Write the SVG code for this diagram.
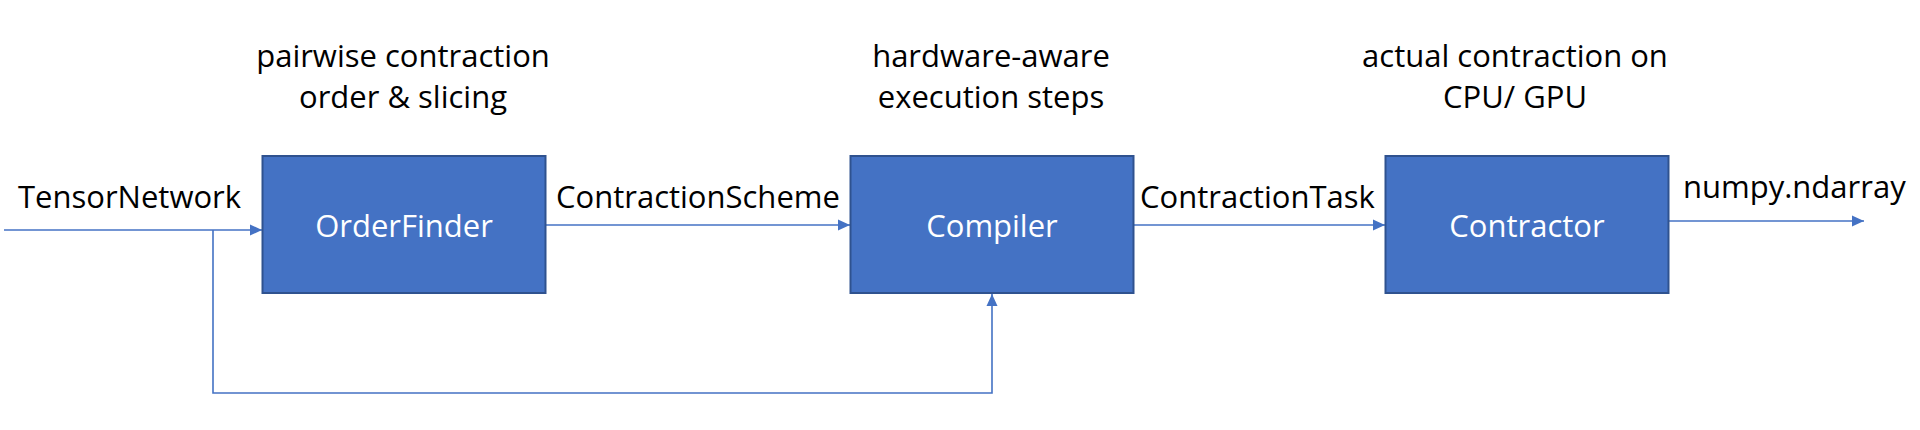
<svg xmlns="http://www.w3.org/2000/svg" width="1920" height="430" viewBox="0 0 1920 430">
<style>
.box{fill:#4472C4;stroke:#2F528F;stroke-width:2}
.lbl{font-family:"Open Sans","Noto Sans","Liberation Sans",sans-serif;font-size:31px;fill:#000}
.blbl{font-family:"Open Sans","Noto Sans","Liberation Sans",sans-serif;font-size:31px;fill:#fff;text-anchor:middle}
.mid{text-anchor:middle}
.con{fill:none;stroke:#4472C4;stroke-width:1.6}
</style>
<defs>
<marker id="arr" markerUnits="userSpaceOnUse" markerWidth="12" markerHeight="12" refX="12" refY="6" orient="auto">
<path d="M0,0.5 L12,6 L0,11.5 z" fill="#4472C4"/>
</marker>
</defs>
<rect width="1920" height="430" fill="#fff"/>
<g id="connectors">
<path class="con" d="M4,230 H262" marker-end="url(#arr)"/>
<path class="con" d="M546,225 H850" marker-end="url(#arr)"/>
<path class="con" d="M1134,225 H1385" marker-end="url(#arr)"/>
<path class="con" d="M1669,221 H1864" marker-end="url(#arr)"/>
<path class="con" d="M213,230 V393 H992 V294" marker-end="url(#arr)"/>
</g>
<g id="orderfinder">
<rect class="box" x="262.5" y="156" width="283" height="137"/>
<text class="blbl" x="404" y="237">OrderFinder</text>
</g>
<g id="compiler">
<rect class="box" x="850.5" y="156" width="283" height="137"/>
<text class="blbl" x="992" y="237">Compiler</text>
</g>
<g id="contractor">
<rect class="box" x="1385.5" y="156" width="283" height="137"/>
<text class="blbl" x="1527" y="237">Contractor</text>
</g>
<g id="labels">
<text class="lbl mid" x="403" y="67">pairwise contraction</text>
<text class="lbl mid" x="403" y="108">order &amp; slicing</text>
<text class="lbl mid" x="991" y="67">hardware-aware</text>
<text class="lbl mid" x="991" y="108">execution steps</text>
<text class="lbl mid" x="1515" y="67">actual contraction on</text>
<text class="lbl mid" x="1515" y="108">CPU/ GPU</text>
<text class="lbl" x="18" y="208">TensorNetwork</text>
<text class="lbl" x="556" y="208">ContractionScheme</text>
<text class="lbl" x="1140" y="208">ContractionTask</text>
<text class="lbl" x="1683" y="198">numpy.ndarray</text>
</g>
</svg>
